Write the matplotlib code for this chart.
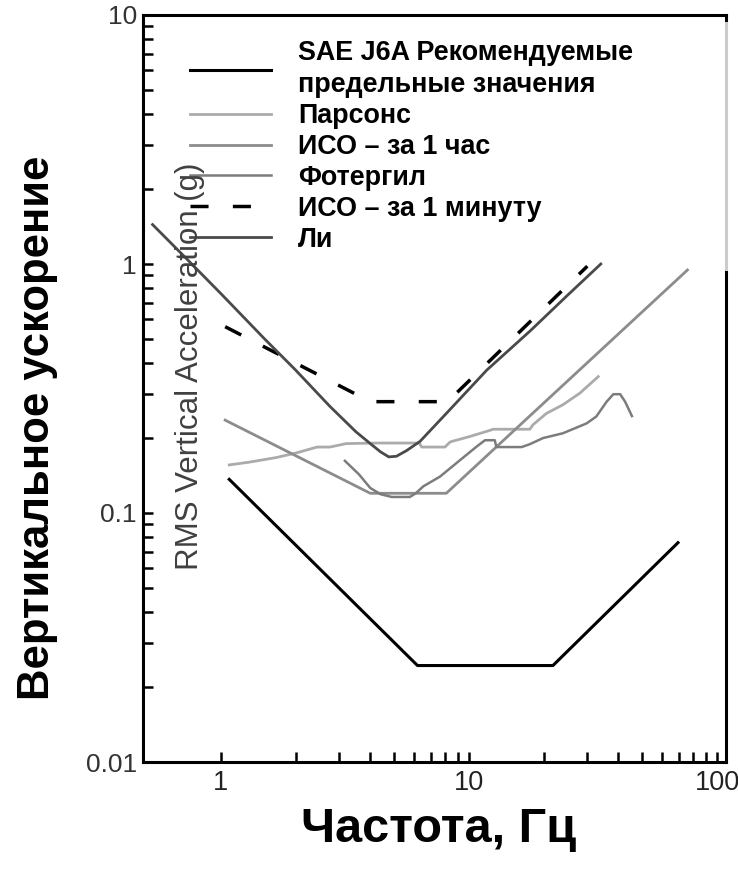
import matplotlib
matplotlib.use('Agg')
import matplotlib.pyplot as plt
from matplotlib.ticker import FixedLocator, FixedFormatter, NullFormatter

plt.rcParams['font.family'] = ['Liberation Sans', 'DejaVu Sans']

# ---- data (frequency Hz, RMS vertical acceleration g) ----
sae_f = [1.08, 6.2, 21.8, 69.6]
sae_a = [0.1365, 0.0244, 0.0244, 0.076]

parsons_f = [1.08, 1.3, 1.67, 2.0, 2.44, 2.75, 3.2, 4.3, 6.3, 6.45, 8.0, 8.4,
             10.1, 12.2, 12.5, 17.6, 18.1, 20.5, 23.9, 28.0, 33.2]
parsons_a = [0.156, 0.16, 0.167, 0.174, 0.184, 0.184, 0.19, 0.191, 0.191, 0.184,
             0.184, 0.193, 0.203, 0.215, 0.217, 0.217, 0.226, 0.251, 0.272, 0.303, 0.353]

iso1h_f = [1.04, 4.0, 8.1, 76.0]
iso1h_a = [0.236, 0.12, 0.12, 0.946]

foth_f = [3.16, 3.6, 4.0, 4.4, 4.88, 5.78, 6.1, 6.55, 7.64, 9.2, 10.75, 11.6,
          12.7, 12.9, 16.3, 17.6, 19.9, 23.9, 29.8, 32.6, 35.9, 38.2, 40.7, 42.6, 45.4]
foth_a = [0.162, 0.143, 0.126, 0.119, 0.116, 0.116, 0.12, 0.128, 0.14, 0.163, 0.185,
          0.196, 0.196, 0.184, 0.184, 0.189, 0.2, 0.209, 0.229, 0.244, 0.28, 0.30,
          0.30, 0.28, 0.245]

iso1m_f = [1.04, 4.0, 8.2, 30.0]
iso1m_a = [0.56, 0.28, 0.28, 0.98]

li_f = [0.53, 0.7, 1.0, 1.5, 2.0, 2.75, 3.5, 4.0, 4.4, 4.75, 5.1, 5.6, 6.35,
        8.1, 11.8, 17.7, 25.0, 34.0]
li_a = [1.44, 1.09, 0.76, 0.50, 0.375, 0.268, 0.212, 0.19, 0.176, 0.168, 0.169,
        0.178, 0.194, 0.251, 0.375, 0.54, 0.75, 1.0]

legend_labels = ["SAE J6A Рекомендуемые\nпредельные значения", "Парсонс",
                 "ИСО – за 1 час", "Фотергил", "ИСО – за 1 минуту", "Ли"]

x_major = [1, 10, 100]
x_major_labels = ["1", "10", "100"]
x_minor = [2, 3, 4, 5, 6, 7, 8, 9, 20, 30, 40, 50, 60, 70, 80, 90]
y_major = [0.01, 0.1, 1, 10]
y_major_labels = ["0.01", "0.1", "1", "10"]
y_minor = [m * d for d in (0.01, 0.1, 1) for m in range(2, 10)]

inner_ylabel = "RMS Vertical Acceleration (g)"
outer_ylabel = "Вертикальное ускорение"
outer_xlabel = "Частота, Гц"

# ---- figure ----
fig = plt.figure(figsize=(7.38, 8.77), dpi=100)
ax = fig.add_axes([143 / 738, 1 - 762 / 877, (726 - 143) / 738, (762 - 15) / 877])
ax.set_xscale('log')
ax.set_yscale('log')
ax.set_xlim(0.485, 108.7)
ax.set_ylim(0.01, 10)

l_sae, = ax.plot(sae_f, sae_a, color='black', lw=2.2, zorder=5)
l_par, = ax.plot(parsons_f, parsons_a, color='#ababab', lw=2.0, zorder=5)
l_iso1h, = ax.plot(iso1h_f, iso1h_a, color='#8c8c8c', lw=2.0, zorder=5)
l_foth, = ax.plot(foth_f, foth_a, color='#7c7c7c', lw=1.8, zorder=5)
l_iso1m, = ax.plot(iso1m_f, iso1m_a, color='black', lw=2.5, zorder=5,
                   linestyle=(0, (5.2, 7.0)))
l_li, = ax.plot(li_f, li_a, color='#4a4a4a', lw=2.0, zorder=5)

leg = ax.legend([l_sae, l_par, l_iso1h, l_foth, l_iso1m, l_li], legend_labels,
                loc='upper left', bbox_to_anchor=(0.0494, 0.5, 0.97, 0.491),
                mode='expand', borderaxespad=0, borderpad=0.69,
                handlelength=3.0, handletextpad=1.0, labelspacing=0.18,
                frameon=True, fancybox=False,
                prop={'family': 'Liberation Sans', 'weight': 'bold', 'size': 19.4})
for t in leg.get_texts():
    t.set_linespacing(1.3)
frame = leg.get_frame()
frame.set_facecolor('white')
frame.set_edgecolor('none')
frame.set_linewidth(0)
leg.set_zorder(4)

ax.text(0.081, 0.53, inner_ylabel, transform=ax.transAxes, rotation=90,
        ha='center', va='center', fontsize=22.5, color='#404040', zorder=6)

# ticks
ax.xaxis.set_major_locator(FixedLocator(x_major))
ax.xaxis.set_major_formatter(FixedFormatter(x_major_labels))
ax.xaxis.set_minor_locator(FixedLocator(x_minor))
ax.xaxis.set_minor_formatter(NullFormatter())
ax.yaxis.set_major_locator(FixedLocator(y_major))
ax.yaxis.set_major_formatter(FixedFormatter(y_major_labels))
ax.yaxis.set_minor_locator(FixedLocator(y_minor))
ax.yaxis.set_minor_formatter(NullFormatter())

ax.tick_params(which='both', direction='in', length=7.5, width=1.8,
               top=False, right=False, color='black')
ax.tick_params(axis='x', which='major', labelsize=19.5, pad=6, labelcolor='#222222')
ax.tick_params(axis='y', which='major', labelsize=19, pad=4.5, labelcolor='#333333')

for s in ax.spines.values():
    s.set_linewidth(2.2)

fig.text(38 / 738, 1 - 428 / 877, outer_ylabel, rotation=90, ha='center', va='center',
         fontsize=31.5, fontweight='bold', color='black')
fig.text(439 / 738, 1 - 830 / 877, outer_xlabel, ha='center', va='center',
         fontsize=35, fontweight='bold', color='black')

fig.savefig('out.png', dpi=100)
